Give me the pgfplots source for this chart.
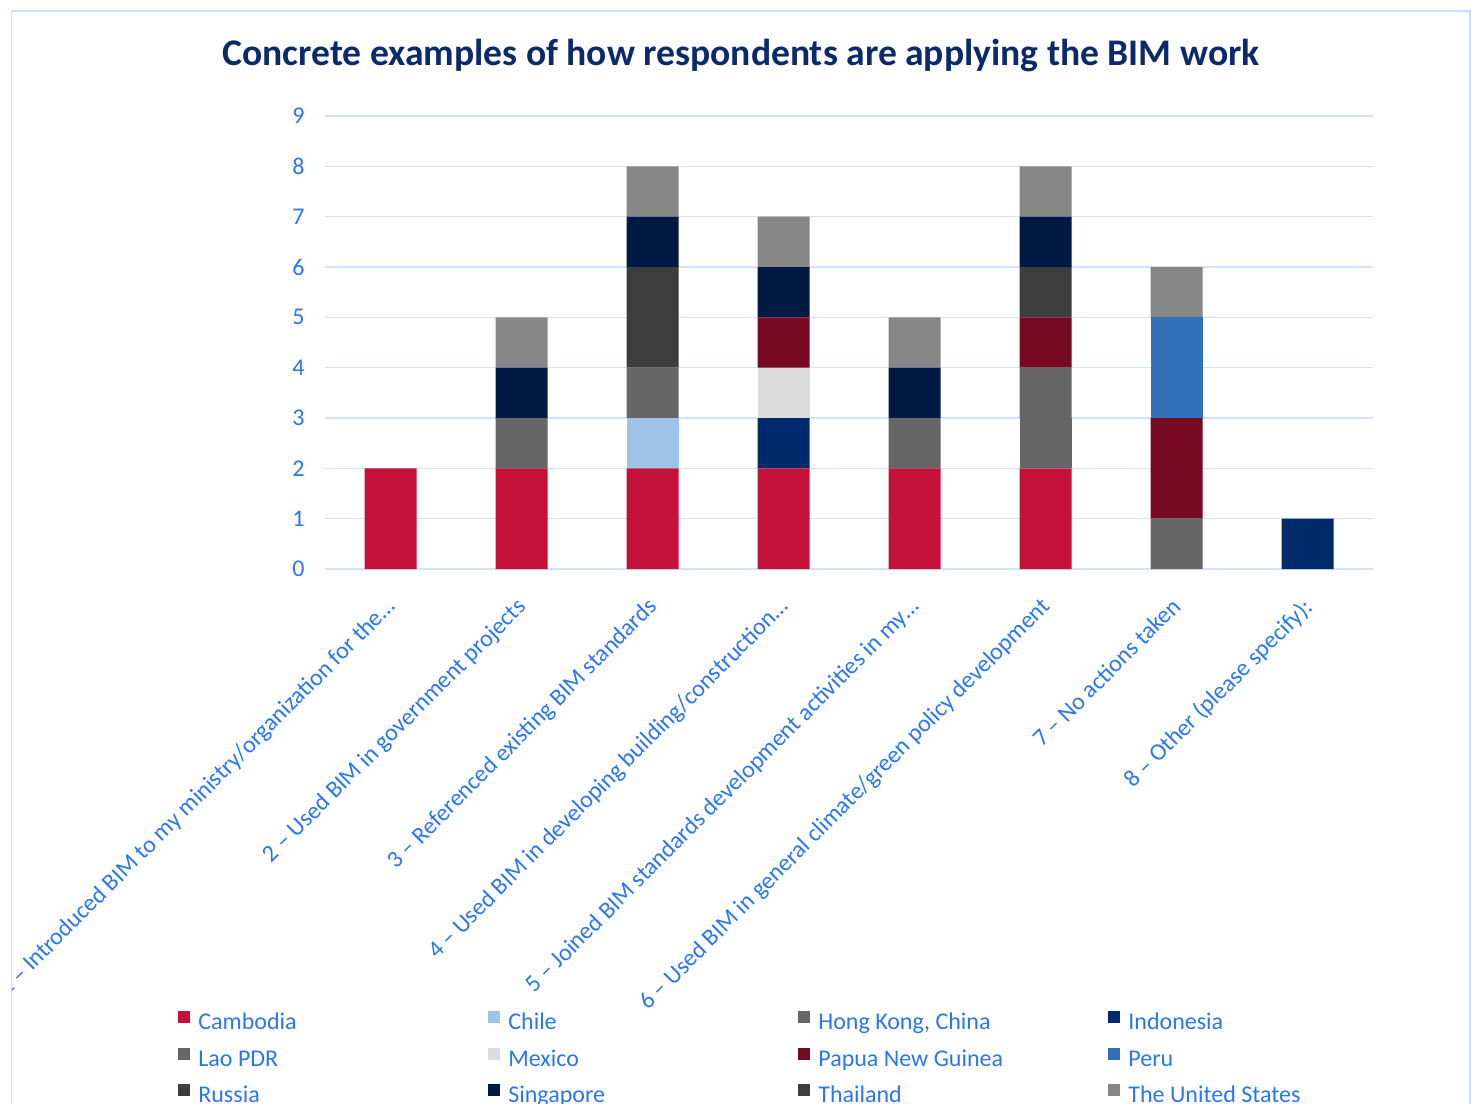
\documentclass[border=0pt]{standalone}
\usepackage{pgfplots}
\pgfplotsset{compat=1.18}
\usepackage{pgfplotstable}
\usepackage{fontspec}
\setmainfont{Carlito}
\definecolor{cCam}{HTML}{C3113A}
\definecolor{cChi}{HTML}{9DC3E6}
\definecolor{cHK}{HTML}{666666}
\definecolor{cIdn}{HTML}{002A6C}
\definecolor{cLao}{HTML}{666666}
\definecolor{cMex}{HTML}{DCDCDC}
\definecolor{cPNG}{HTML}{760A24}
\definecolor{cPer}{HTML}{2F70B8}
\definecolor{cRus}{HTML}{3D3D3D}
\definecolor{cSgp}{HTML}{001A43}
\definecolor{cTha}{HTML}{3D3D3D}
\definecolor{cUS}{HTML}{878787}
\definecolor{txtcol}{HTML}{2A76F0}
\definecolor{titlecol}{HTML}{0B2A6B}
\definecolor{gridcol}{HTML}{D3E2FA}
\definecolor{framecol}{HTML}{C8DCFC}
\pgfplotstableread{
x cam chi hk idn lao mex png per rus sgp tha us
1 2 0 0 0 0 0 0 0 0 0 0 0
2 2 0 0 0 1 0 0 0 0 1 0 1
3 2 1 0 0 1 0 0 0 2 1 0 1
4 2 0 0 1 0 1 1 0 0 1 0 1
5 2 0 0 0 1 0 0 0 0 1 0 1
6 2 0 1 0 1 0 1 0 1 1 0 1
7 0 0 0 0 1 0 2 2 0 0 0 1
8 0 0 0 1 0 0 0 0 0 0 0 0
}\datatable
\begin{document}
\begin{tikzpicture}
\useasboundingbox (0,0) rectangle (737.5pt,-551.5pt);
\clip (5.5pt,0) rectangle (737.5pt,-551.5pt);
\node[font=\fontsize{18.8}{22}\selectfont\bfseries, text=titlecol] at (370.5pt,-27.5pt) {Concrete examples of how respondents are applying the BIM work};
\begin{axis}[
  at={(162.5pt,-284.5pt)}, anchor=south west,
  scale only axis, width=524pt, height=226.5pt,
  ybar stacked, bar width=26pt,
  xmin=0.5, xmax=8.5, ymin=0, ymax=9,
  xtick={1,2,3,4,5,6,7,8},
  xticklabels={1 – Introduced BIM to my ministry/organization for the…,2 – Used BIM in government projects,3 – Referenced existing BIM standards,4 – Used BIM in developing building/construction…,5 – Joined BIM standards development activities in my…,6 – Used BIM in general climate/green policy development,7 – No actions taken,8 – Other (please specify):},
  ytick={0,1,2,3,4,5,6,7,8,9},
  axis line style={draw=none}, major tick length=0pt,
  ymajorgrids, grid style={color=gridcol, line width=0.8pt},
  xticklabel style={rotate=45, anchor=north east, inner sep=0pt, font=\fontsize{12}{14}\selectfont, text=txtcol, xshift=-11.6pt, yshift=-7.3pt},
  yticklabel style={anchor=east, inner sep=0pt, font=\fontsize{12}{14}\selectfont, text=txtcol, xshift=-10pt},
  /pgf/number format/assume math mode=true,
  every axis plot/.append style={draw=none},
  legend columns=4,
  legend style={at={(-0.1403,-0.9757)}, anchor=north west, draw=none, fill=none,
    inner sep=0pt, font=\fontsize{12}{14}\selectfont, text=txtcol,
    nodes={inner sep=0pt, text height=8.5pt, text depth=3pt},
    /tikz/every odd column/.append style={column sep=4pt},
    row sep=6pt},
  legend cell align=left,
  legend image code/.code={\path[#1] (0pt,0.5pt) rectangle (6pt,6.5pt);},
]
\addplot[fill=cCam] table[x=x,y=cam]{\datatable};
\addlegendentry{\makebox[145pt][l]{Cambodia}}
\addplot[fill=cChi] table[x=x,y=chi]{\datatable};
\addlegendentry{\makebox[145pt][l]{Chile}}
\addplot[fill=cHK] table[x=x,y=hk]{\datatable};
\addlegendentry{\makebox[145pt][l]{Hong Kong, China}}
\addplot[fill=cIdn] table[x=x,y=idn]{\datatable};
\addlegendentry{\makebox[145pt][l]{Indonesia}}
\addplot[fill=cLao] table[x=x,y=lao]{\datatable};
\addlegendentry{\makebox[145pt][l]{Lao PDR}}
\addplot[fill=cMex] table[x=x,y=mex]{\datatable};
\addlegendentry{\makebox[145pt][l]{Mexico}}
\addplot[fill=cPNG] table[x=x,y=png]{\datatable};
\addlegendentry{\makebox[145pt][l]{Papua New Guinea}}
\addplot[fill=cPer] table[x=x,y=per]{\datatable};
\addlegendentry{\makebox[145pt][l]{Peru}}
\addplot[fill=cRus] table[x=x,y=rus]{\datatable};
\addlegendentry{\makebox[145pt][l]{Russia}}
\addplot[fill=cSgp] table[x=x,y=sgp]{\datatable};
\addlegendentry{\makebox[145pt][l]{Singapore}}
\addplot[fill=cTha] table[x=x,y=tha]{\datatable};
\addlegendentry{\makebox[145pt][l]{Thailand}}
\addplot[fill=cUS] table[x=x,y=us]{\datatable};
\addlegendentry{\makebox[145pt][l]{The United States}}
\end{axis}
\draw[framecol, line width=1.2pt] (5.5pt,-600pt) -- (5.5pt,-5.5pt) -- (735pt,-5.5pt) -- (735pt,-600pt);
\end{tikzpicture}
\end{document}
